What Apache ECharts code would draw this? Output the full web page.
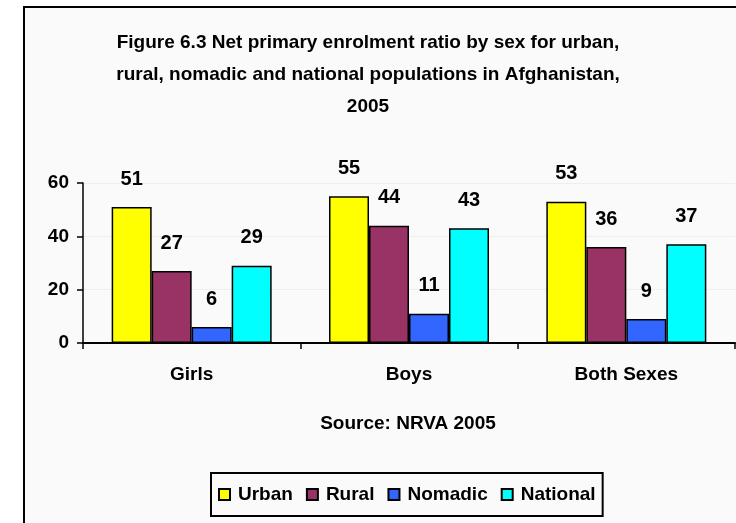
<!DOCTYPE html>
<html>
<head>
<meta charset="utf-8">
<script src="https://cdn.jsdelivr.net/npm/echarts@6/dist/echarts.min.js"></script>
<style>
html,body{margin:0;padding:0;background:#ffffff;}
#chart{width:736px;height:523px;}
</style>
</head>
<body>
<div id="chart"></div>
<script>
const categories = ['Girls', 'Boys', 'Both Sexes'];
const urban = [51, 55, 53];
const rural = [27, 44, 36];
const nomadic = [6, 11, 9];
const national = [29, 43, 37];
const seriesNames = ['Urban', 'Rural', 'Nomadic', 'National'];
const seriesColors = ['#FFFF00', '#993366', '#3366FF', '#00FFFF'];
const yTicks = [0, 20, 40, 60];
const titleText = 'Figure 6.3 Net primary enrolment ratio by sex for urban,\nrural, nomadic and national populations in Afghanistan,\n2005';
const sourceText = 'Source: NRVA 2005';

const FONT = 'Liberation Sans, Arial, sans-serif';
const chart = echarts.init(document.getElementById('chart'), null, {renderer: 'canvas'});
const allData = [urban, rural, nomadic, national];

const option = {
  backgroundColor: '#ffffff',
  animation: false,
  graphic: [
    {
      type: 'rect',
      z: -10,
      shape: {x: 24, y: 7, width: 800, height: 600},
      style: {fill: '#fafafa', stroke: '#000000', lineWidth: 2}
    }
  ],
  title: [
    {
      text: titleText,
      left: 'center',
      top: 22,
      textStyle: {fontFamily: FONT, fontSize: 19, fontWeight: 'bold', color: '#000', lineHeight: 32}
    },
    {
      text: sourceText,
      left: 403,
      top: 409,
      textAlign: 'center',
      textStyle: {fontFamily: FONT, fontSize: 19, fontWeight: 'bold', color: '#000'}
    }
  ],
  legend: {
    data: seriesNames,
    left: 211,
    top: 473,
    padding: [12, 7, 12, 7],
    itemGap: 13,
    itemWidth: 11,
    itemHeight: 11,
    borderColor: '#000',
    borderWidth: 2,
    icon: 'rect',
    textStyle: {fontFamily: FONT, fontSize: 19, fontWeight: 'bold', color: '#000', padding: [0, 0, 0, 3]}
  },
  grid: {left: 83, right: 1, top: 183, bottom: 180, containLabel: false},
  xAxis: {
    type: 'category',
    data: categories,
    axisLine: {lineStyle: {color: '#000', width: 2}},
    axisTick: {show: true, length: 6, lineStyle: {color: '#000', width: 1.5}},
    axisLabel: {fontFamily: FONT, fontSize: 19, fontWeight: 'bold', color: '#000', margin: 22}
  },
  yAxis: {
    type: 'value',
    min: yTicks[0],
    max: yTicks[yTicks.length - 1],
    interval: 20,
    axisLine: {show: true, lineStyle: {color: '#000', width: 1.5}},
    axisTick: {show: true, length: 6, lineStyle: {color: '#000', width: 1.5}},
    axisLabel: {fontFamily: FONT, fontSize: 19, fontWeight: 'bold', color: '#000', margin: 14},
    splitLine: {show: true, lineStyle: {color: '#eeeeee', width: 1}}
  },
  series: seriesNames.map((name, i) => ({
    name: name,
    type: 'bar',
    data: allData[i],
    barWidth: 40,
    barGap: '0%',
    itemStyle: {color: seriesColors[i], borderColor: '#000', borderWidth: 1.5},
    label: {
      show: true,
      position: 'top',
      distance: 18,
      fontFamily: FONT,
      fontSize: 20,
      fontWeight: 'bold',
      color: '#000'
    }
  }))
};
chart.setOption(option);
</script>
</body>
</html>
